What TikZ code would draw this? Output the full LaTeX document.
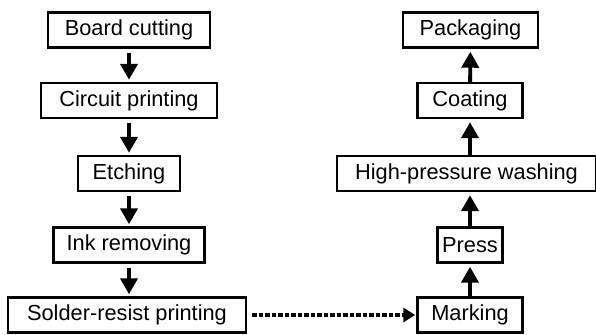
\documentclass[tikz,border=0pt]{standalone}
\usepackage{fontspec}
\setmainfont{Liberation Sans}
\usepackage{xcolor}
\usepackage{tikz}
\usetikzlibrary{arrows.meta}

\begin{document}
\begin{tikzpicture}[
    every node/.style={font=\fontsize{12.4}{14}\selectfont},
    stepbox/.style={draw, line width=1.4pt, minimum height=0.7cm, inner sep=0pt},
    flow/.style={line width=2.2pt, -{Triangle[length=0.32cm,width=0.34cm]}},
    jump/.style={line width=2.4pt, dash pattern=on 0.09cm off 0.04cm, -{Triangle[length=0.24cm,width=0.28cm]}}
]
\useasboundingbox (0,0) rectangle (11.92,6.7);

    % left column, top to bottom
    \node[stepbox, minimum width=3.24cm] (cut)   at (2.58,6.1)  {Board cutting};
    \node[stepbox, minimum width=3.52cm] (print) at (2.58,4.69) {Circuit printing};
    \node[stepbox, minimum width=2.04cm] (etch)  at (2.58,3.23) {Etching};
    \node[stepbox, minimum width=3.02cm] (ink)   at (2.58,1.8)  {Ink removing};
    \node[stepbox, minimum width=4.76cm] (mask)  at (2.54,0.4)  {Solder-resist printing};

    % right column, bottom to top
    \node[stepbox, minimum width=2.1cm]  (mark)  at (9.4,0.4)   {Marking};
    \node[stepbox, minimum width=1.3cm]  (press) at (9.4,1.8)   {Press};
    \node[stepbox, minimum width=5.18cm] (wash)  at (9.33,3.23) {High-pressure washing};
    \node[stepbox, minimum width=2.1cm]  (coat)  at (9.4,4.69)  {Coating};
    \node[stepbox, minimum width=2.7cm]  (pack)  at (9.41,6.1)  {Packaging};

    % draw the arrows
    \draw[flow, shorten <=0.08cm, shorten >=0.04cm] (cut) -- (print);
    \draw[flow, shorten <=0.08cm, shorten >=0.04cm] (print) -- (etch);
    \draw[flow, shorten <=0.08cm, shorten >=0.04cm] (etch) -- (ink);
    \draw[flow, shorten <=0.08cm, shorten >=0.04cm] (ink) -- (mask.north -| ink);
    \draw[jump, shorten <=0.1cm, shorten >=0.02cm] (mask) -- (mark);
    \draw[flow, shorten >=0.06cm] (mark) -- (press);
    \draw[flow, shorten >=0.06cm] (press) -- (wash.south -| press);
    \draw[flow, shorten >=0.06cm] (wash.north -| coat) -- (coat);
    \draw[flow, shorten >=0.06cm] (coat) -- (pack);

\end{tikzpicture}
\end{document}
